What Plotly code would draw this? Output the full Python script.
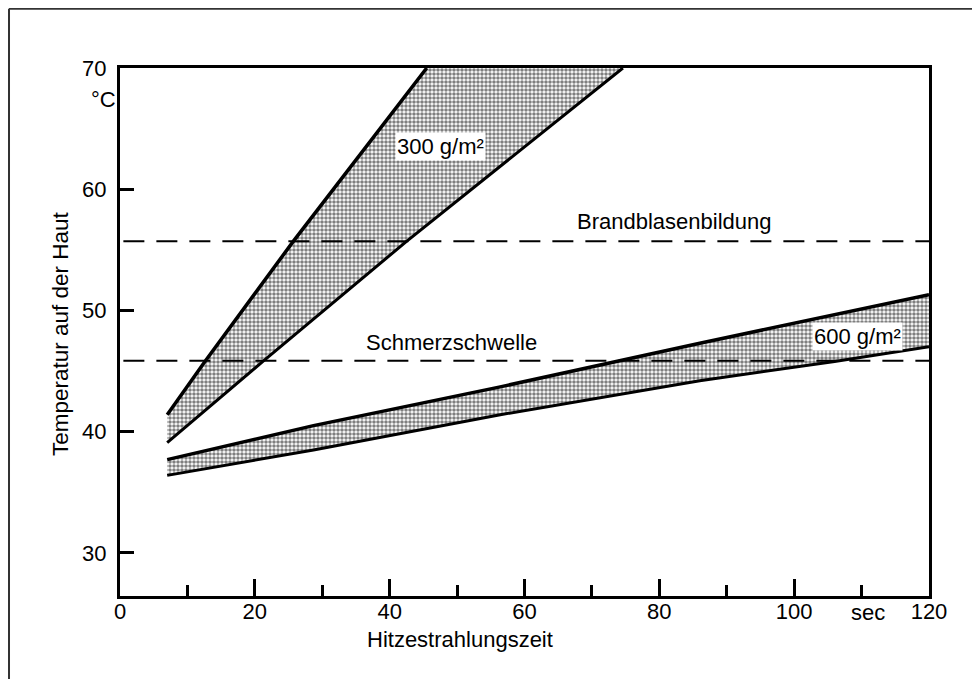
import plotly.graph_objects as go

# ---- data ----
band300_upper_x = [7, 12.6, 25.7, 45.5]
band300_upper_y = [41.4, 45.8, 55.7, 70.0]
band300_lower_x = [7, 21.2, 42.5, 74.6]
band300_lower_y = [39.1, 45.8, 55.7, 70.0]

band600_upper_x = [7, 28.7, 56.4, 86, 120]
band600_upper_y = [37.7, 40.5, 43.7, 47.3, 51.3]
band600_lower_x = [7, 28.7, 56.4, 86, 106, 120]
band600_lower_y = [36.4, 38.5, 41.4, 44.2, 45.8, 47.0]

threshold_names = ["Brandblasenbildung", "Schmerzschwelle"]
threshold_values = [55.7, 45.85]
threshold_x = [0.5, 120]

x_tickvals = [0, 20, 40, 60, 80, 100, 120]
x_ticktext = ["0", "20", "40", "60", "80", "100", "120"]
y_tickvals = [30, 40, 50, 60, 70]
y_ticktext = ["30", "40", "50", "60", "70"]

FONT = "Liberation Sans, Arial, Helvetica, sans-serif"
pattern = dict(shape=".", size=4, solidity=0.62, fgcolor="black", bgcolor="white")

fig = go.Figure()

# filled bands
for ux, uy, lx, ly in [
    (band300_upper_x, band300_upper_y, band300_lower_x, band300_lower_y),
    (band600_upper_x, band600_upper_y, band600_lower_x, band600_lower_y),
]:
    fig.add_trace(go.Scatter(
        x=ux + lx[::-1], y=uy + ly[::-1], mode="lines", fill="toself",
        fillpattern=pattern, fillcolor="white", line=dict(width=0, color="rgba(0,0,0,0)"),
        hoverinfo="skip", showlegend=False))

# boundary lines
for xs, ys, w in [
    (band300_upper_x, band300_upper_y, 3.5),
    (band300_lower_x, band300_lower_y, 3),
    (band600_upper_x, band600_upper_y, 3.5),
    (band600_lower_x, band600_lower_y, 3),
]:
    fig.add_trace(go.Scatter(x=xs, y=ys, mode="lines",
                             line=dict(color="black", width=w),
                             showlegend=False, hoverinfo="skip"))

# threshold dashed lines
for name, v in zip(threshold_names, threshold_values):
    fig.add_trace(go.Scatter(x=threshold_x, y=[v, v], mode="lines", name=name,
                             line=dict(color="black", width=2, dash="21px,12px"),
                             showlegend=False, hoverinfo="skip"))

TS = 22
ann = [
    dict(x=47.5, y=63.5, text="300 g/m²", bgcolor="white"),
    dict(x=109.4, y=47.85, text="600 g/m²", bgcolor="white"),
    dict(x=82.2, y=57.3, text="Brandblasenbildung"),
    dict(x=49.2, y=47.4, text="Schmerzschwelle"),
]
annotations = []
for a in ann:
    d = dict(xref="x", yref="y", showarrow=False, font=dict(family=FONT, size=TS, color="black"),
             borderpad=1)
    d.update(a)
    annotations.append(d)

annotations += [
    dict(xref="paper", yref="y", x=-0.003, y=67.4, text="°C", showarrow=False,
         xanchor="right", font=dict(family=FONT, size=TS, color="black")),
    dict(xref="x", yref="paper", x=110.9, y=-0.031, text="sec", showarrow=False,
         yanchor="middle", font=dict(family=FONT, size=TS, color="black")),
    dict(xref="x", yref="paper", x=50.4, y=-0.0833, text="Hitzestrahlungszeit", showarrow=False,
         yanchor="middle", font=dict(family=FONT, size=TS, color="black")),
    dict(xref="paper", yref="paper", x=-0.0742, y=0.498, text="Temperatur auf der Haut",
         showarrow=False, textangle=-90, xanchor="center", yanchor="middle",
         font=dict(family=FONT, size=22.5, color="black")),
]

fig.update_layout(
    width=964, height=671,
    margin=dict(l=112, r=43, t=60, b=83),
    paper_bgcolor="white", plot_bgcolor="white",
    font=dict(family=FONT, size=TS, color="black"),
    annotations=annotations,
    shapes=[
        dict(type="line", xref="paper", yref="paper", x0=-0.1372, x1=-0.1372, y0=1.112, y1=-0.2,
             line=dict(color="#333333", width=2)),
        dict(type="line", xref="paper", yref="paper", x0=-0.1372, x1=1.1, y0=1.112, y1=1.112,
             line=dict(color="#333333", width=2)),
    ],
)

fig.update_xaxes(
    range=[0, 120], tickmode="array", tickvals=x_tickvals, ticktext=x_ticktext,
    ticks="inside", ticklen=17, tickwidth=2.5, tickcolor="black",
    minor=dict(dtick=10, tick0=0, ticks="inside", ticklen=11, tickwidth=2.5, tickcolor="black"),
    showline=True, linecolor="black", linewidth=3, mirror=True,
    showgrid=False, zeroline=False, ticklabelstandoff=-6,
    tickfont=dict(family=FONT, size=TS, color="black"),
)
fig.update_yaxes(
    range=[26.45, 70], tickmode="array", tickvals=y_tickvals, ticktext=y_ticktext,
    ticks="inside", ticklen=14, tickwidth=2.5, tickcolor="black",
    showline=True, linecolor="black", linewidth=3, mirror=True,
    showgrid=False, zeroline=False, ticklabelstandoff=6,
    tickfont=dict(family=FONT, size=TS, color="black"),
)

fig.write_html("out.html")
